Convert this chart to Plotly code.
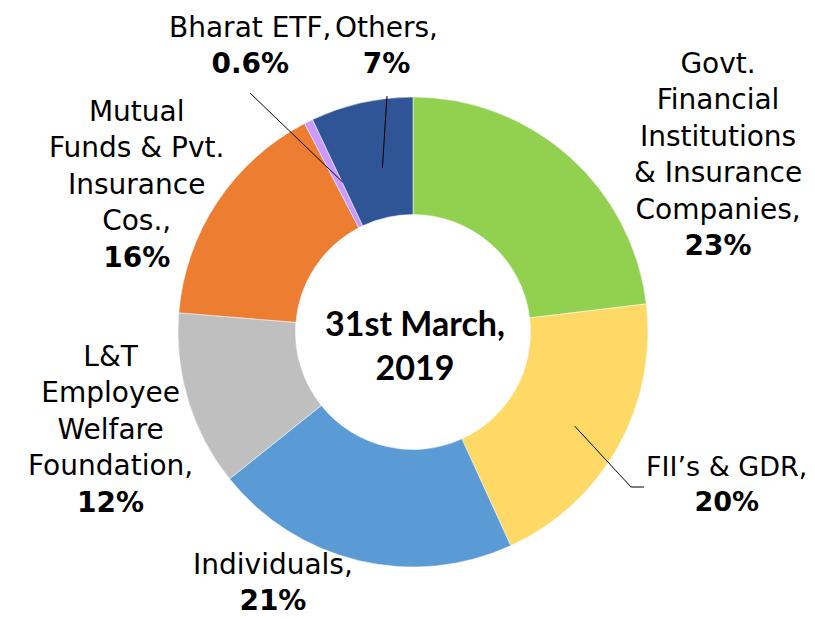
import math
import plotly.graph_objects as go

# shareholding pattern, 31st March 2019 (clockwise from 12 o'clock)
categories = ["Govt. Financial Institutions & Insurance Companies", "FII's & GDR", "Individuals",
              "L&T Employee Welfare Foundation", "Mutual Funds & Pvt. Insurance Cos.",
              "Bharat ETF", "Others"]
shares = [23, 20, 21, 12, 16, 0.6, 7]
share_labels = ["23%", "20%", "21%", "12%", "16%", "0.6%", "7%"]
colors = ["#92D050", "#FFD966", "#5B9BD5", "#BFBFBF", "#ED7D31", "#CC99FF", "#2F5597"]

label_text = [
    "Govt.<br>Financial<br>Institutions<br>&amp; Insurance<br>Companies,",
    "FII’s &amp; GDR,",
    "Individuals,",
    "L&amp;T<br>Employee<br>Welfare<br>Foundation,",
    "Mutual<br>Funds &amp; Pvt.<br>Insurance<br>Cos.,",
    "Bharat ETF,",
    "Others,",
]

W, H = 815, 619
# target pie centre / radius in pixels (plotly draws it ~8px right and down of the domain centre)
PCX, PCY, R = 413, 332, 235
x0, x1 = (PCX - 8 - R) / W, (PCX - 8 + R) / W
y0, y1 = 1 - (PCY - 8 + R) / H, 1 - (PCY - 8 - R) / H
cx, cy = PCX / W, 1 - PCY / H

FONT = "DejaVu Sans"

fig = go.Figure(go.Pie(
    labels=categories,
    values=shares,
    hole=0.5,
    sort=False,
    direction="clockwise",
    rotation=0,
    marker=dict(colors=colors, line=dict(color="white", width=0.5)),
    textinfo="none",
    hoverinfo="label+percent",
    domain=dict(x=[x0, x1], y=[y0, y1]),
    showlegend=False,
))

# label placement in pixels: (x centre, y centre or None -> bottom edge, font size)
label_pos = [(710, 146, 28), (718, 476, 27), (265, None, 28),
             (102, 421, 28), (128, 176, 28), (242, 37, 28), (378, 37, 28)]
for txt, pct, (px, py, fs) in zip(label_text, share_labels, label_pos):
    fig.add_annotation(
        x=px / W, y=8 / H if py is None else 1 - py / H, xref="paper", yref="paper",
        text=f"{txt}<br><b>{pct}</b>", showarrow=False,
        xanchor="center", yanchor="bottom" if py is None else "middle", align="center",
        font=dict(family=FONT, size=fs, color="black"),
    )

# leader lines from slice middles to their labels
total = sum(shares)
leaders = {1: [(623, 479), (636, 479)], 5: [(242, 85)], 6: [(379, 88)]}
cum = 0
for i, v in enumerate(shares):
    mid = (cum + v / 2) / total * 2 * math.pi
    cum += v
    if i not in leaders:
        continue
    sx = cx + 0.75 * R * math.sin(mid) / W
    sy = cy + 0.75 * R * math.cos(mid) / H
    pts = [(sx, sy)] + [(p[0] / W, 1 - p[1] / H) for p in leaders[i]]
    for (ax, ay), (bx, by) in zip(pts[:-1], pts[1:]):
        fig.add_shape(type="line", xref="paper", yref="paper", x0=ax, y0=ay, x1=bx, y1=by,
                      line=dict(color="black", width=1))

fig.add_annotation(
    x=(PCX - 6) / W, y=1 - 336 / H, xref="paper", yref="paper",
    text="<b>31st March,<br>2019</b>", showarrow=False,
    xanchor="center", yanchor="middle", align="center",
    font=dict(family="Lato", size=34, color="black"),
)

fig.update_layout(
    width=W, height=H,
    margin=dict(l=0, r=0, t=0, b=0),
    paper_bgcolor="white", plot_bgcolor="white",
)

fig.write_html("out.html")
